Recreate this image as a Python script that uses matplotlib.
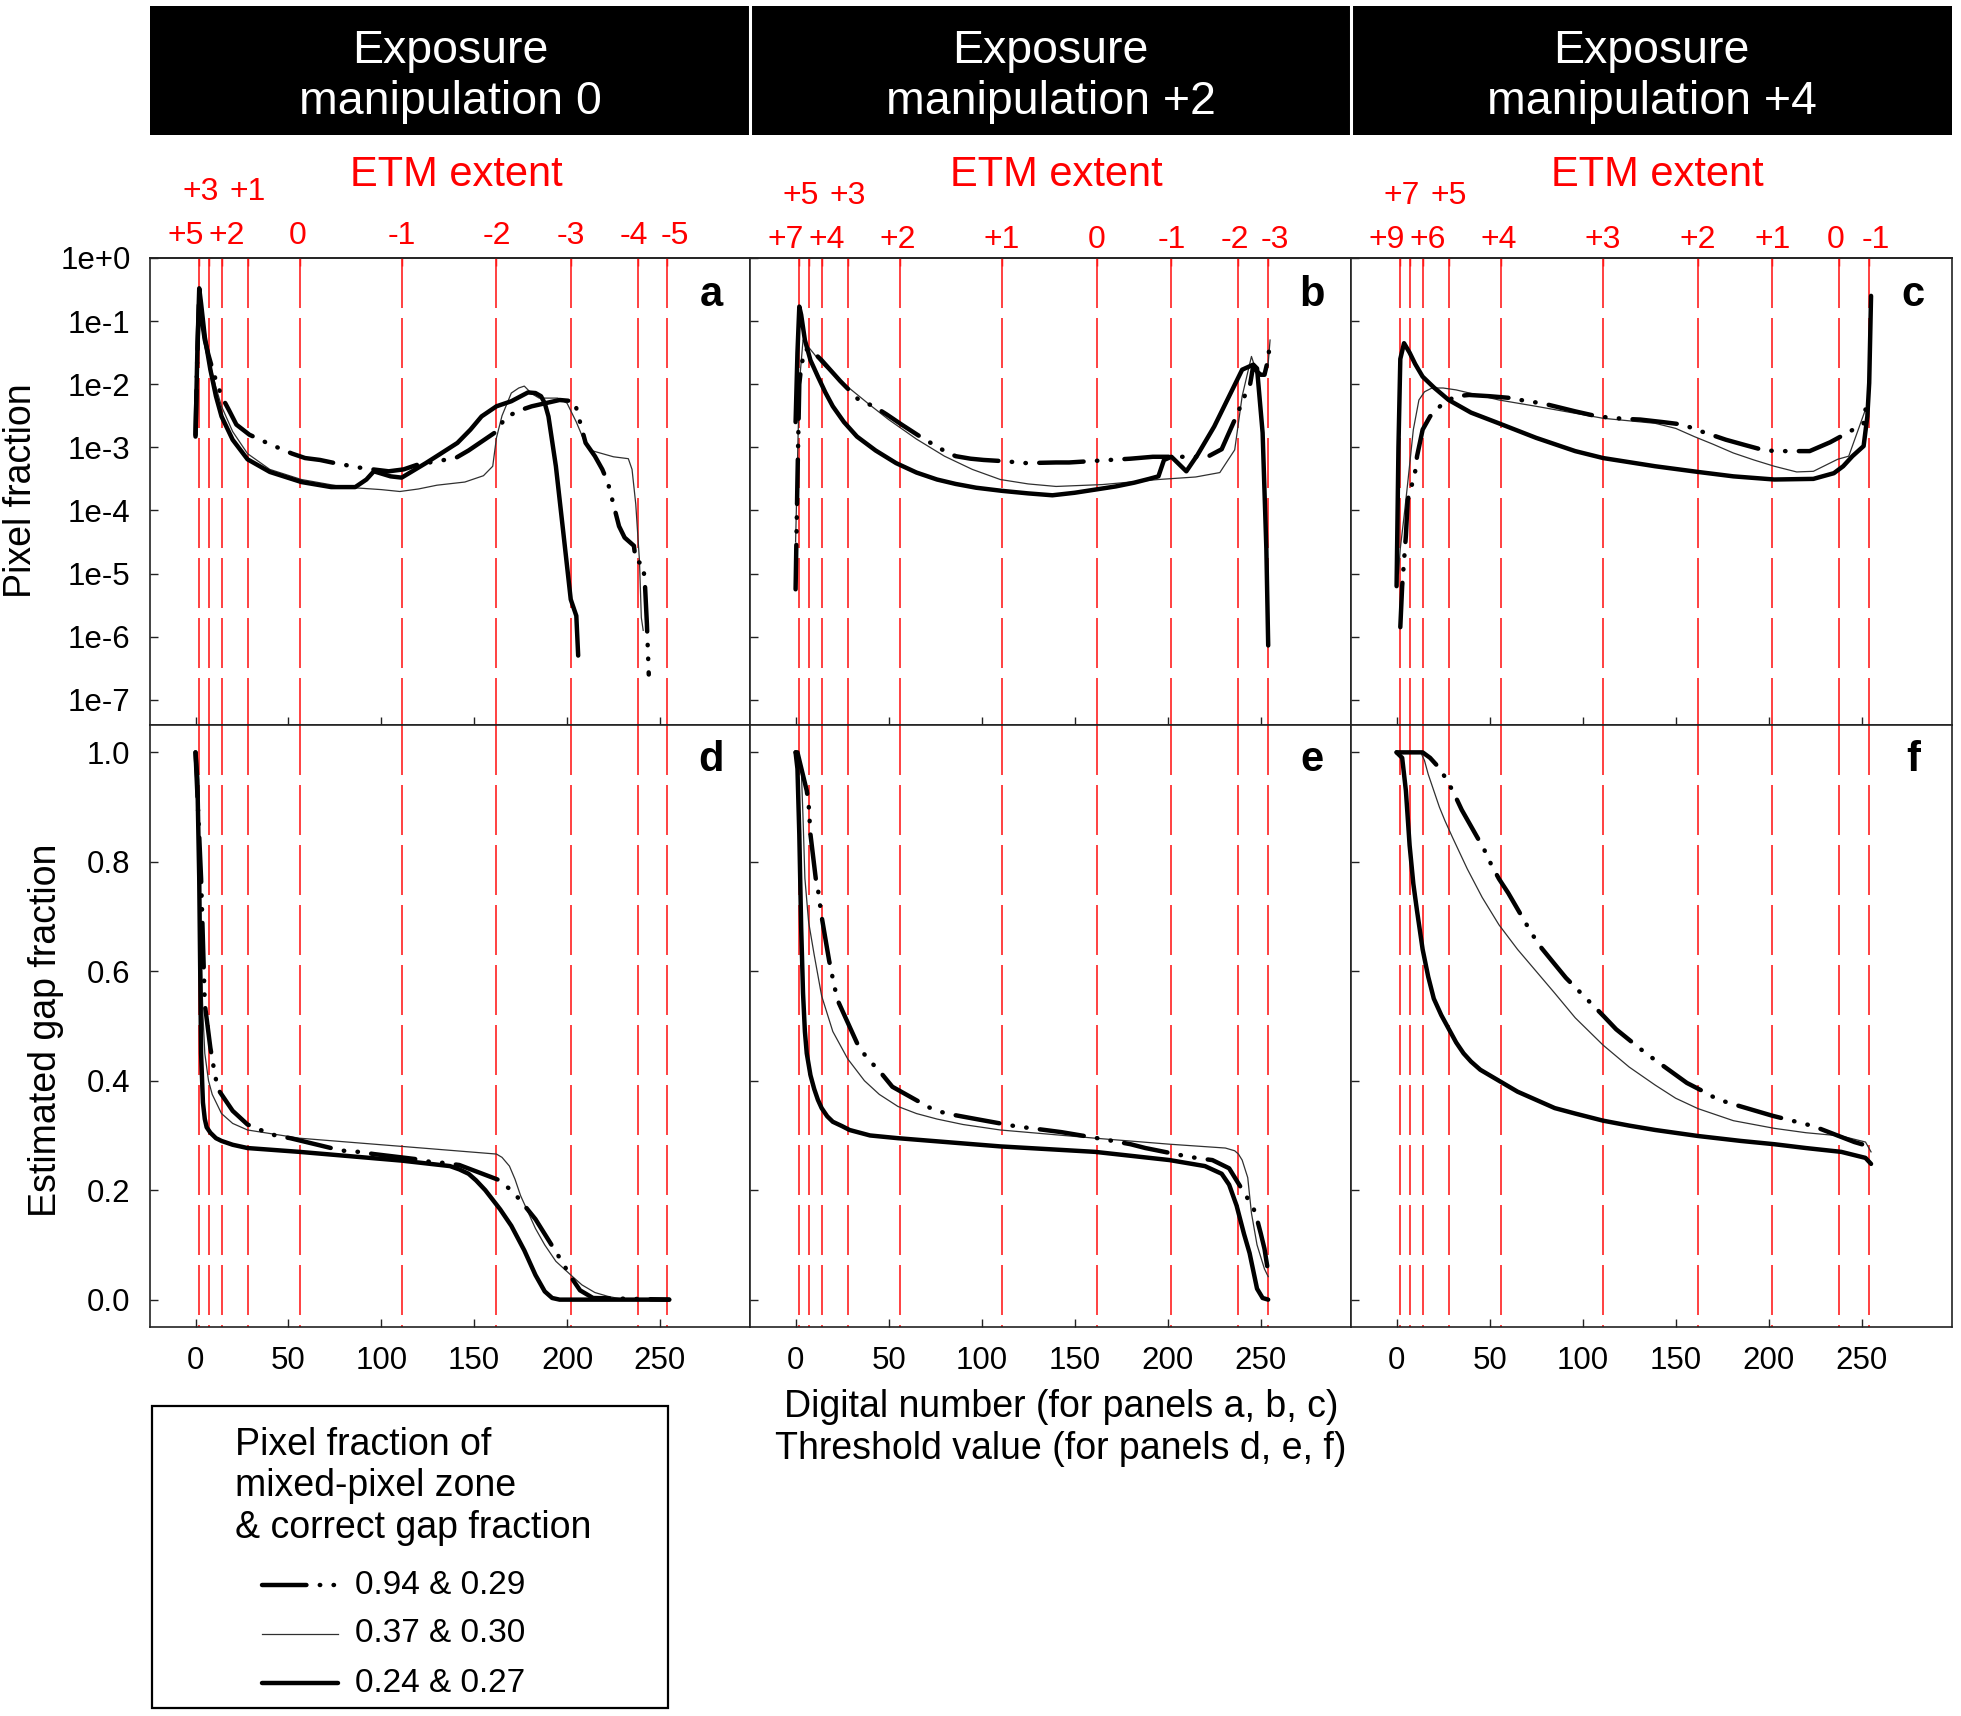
import matplotlib
matplotlib.use("Agg")
import matplotlib.pyplot as plt
from matplotlib.transforms import blended_transform_factory, ScaledTranslation
from matplotlib.patches import Rectangle
from matplotlib.ticker import NullLocator

plt.rcParams['font.family'] = ['Liberation Sans', 'DejaVu Sans']

# ---- data ----
# digital-number positions of the ETM dashed lines (same in every panel)
ETM_DN = [2, 7, 14, 28, 56, 111, 162, 202, 238, 254]
ETM_LABELS = [
    ['+5', '+3', '+2', '+1', '0', '-1', '-2', '-3', '-4', '-5'],
    ['+7', '+5', '+4', '+3', '+2', '+1', '0', '-1', '-2', '-3'],
    ['+9', '+7', '+6', '+5', '+4', '+3', '+2', '+1', '0', '-1'],
]
HEADERS = ['0', '+2', '+4']
PANEL_TOP = ['a', 'b', 'c']
PANEL_BOT = ['d', 'e', 'f']

# panel a: log10(pixel fraction) vs digital number
a_thick_dn = [0, 1, 2, 3, 5, 8, 11, 14, 20, 28, 40, 57, 73, 86, 92, 96, 105, 111, 124, 132, 141,
              148, 154, 162, 170, 179, 183, 186, 188, 190, 194, 198, 202, 205, 206]
a_thick_lg = [-2.83, -1.46, -0.48, -0.72, -1.25, -1.77, -2.19, -2.51, -2.88, -3.19, -3.39, -3.55,
              -3.63, -3.63, -3.51, -3.38, -3.46, -3.48, -3.25, -3.10, -2.93, -2.72, -2.51, -2.35,
              -2.27, -2.13, -2.14, -2.19, -2.30, -2.51, -3.30, -4.35, -5.41, -5.67, -6.30]
a_mid_dn = [0, 1, 2, 3, 5, 7, 10, 14, 18, 22, 29, 40, 52, 59, 67, 75, 90, 104, 112, 120, 140,
            147, 155, 162, 167, 176, 181, 196, 204, 210, 215, 219, 222, 228, 231, 236, 237, 241,
            242, 243, 244]
a_mid_lg = [-2.8, -1.5, -0.55, -0.9, -1.3, -1.54, -1.85, -2.19, -2.41, -2.64, -2.80, -2.95,
            -3.10, -3.17, -3.20, -3.25, -3.33, -3.38, -3.35, -3.27, -3.17, -3.05, -2.89, -2.75,
            -2.52, -2.40, -2.35, -2.25, -2.27, -2.93, -3.14, -3.35, -3.56, -4.25, -4.43, -4.56,
            -4.80, -4.85, -5.2, -5.8, -6.6]
a_thin_dn = [1, 2, 3, 5, 8, 11, 14, 20, 28, 40, 57, 80, 100, 110, 120, 130, 145, 155, 160, 162,
             165, 170, 174, 177, 181, 185, 195, 200, 205, 210, 213, 225, 233, 235, 237, 239, 240,
             241]
a_thin_lg = [-1.0, -0.5, -0.6, -1.2, -1.7, -2.05, -2.35, -2.75, -3.10, -3.35, -3.51, -3.63,
             -3.67, -3.70, -3.66, -3.60, -3.55, -3.45, -3.30, -2.85, -2.50, -2.14, -2.06, -2.03,
             -2.15, -2.22, -2.22, -2.30, -2.60, -2.95, -3.05, -3.15, -3.18, -3.35, -3.90, -4.80,
             -5.70, -5.90]

# panel b
b_thick_dn = [0, 1, 2, 3, 5, 8, 12, 16, 20, 26, 33, 43, 54, 65, 76, 86, 97, 111, 125, 138, 150,
              161, 172, 182, 190, 195, 198, 202, 210, 216, 225, 232, 240, 246, 248, 251, 253, 254]
b_thick_lg = [-2.6, -1.5, -0.77, -0.9, -1.3, -1.62, -1.88, -2.13, -2.35, -2.6, -2.83, -3.05,
              -3.25, -3.4, -3.51, -3.58, -3.64, -3.69, -3.73, -3.76, -3.72, -3.67, -3.62, -3.56,
              -3.5, -3.46, -3.2, -3.15, -3.38, -3.12, -2.67, -2.25, -1.77, -1.69, -1.75, -2.77,
              -4.6, -6.14]
b_mid_dn = [0, 1, 2, 3, 5, 8, 14, 24, 34, 42, 49, 57, 68, 79, 86, 94, 101, 112, 124, 140, 147,
            158, 169, 180, 192, 204, 216, 222, 229, 232, 237, 242, 244, 246, 248, 250, 252, 254,
            255]
b_mid_lg = [-5.25, -3.5, -2.0, -1.72, -1.45, -1.45, -1.62, -1.95, -2.25, -2.35, -2.48, -2.64,
            -2.85, -3.04, -3.14, -3.18, -3.2, -3.22, -3.25, -3.24, -3.24, -3.22, -3.2, -3.18,
            -3.15, -3.15, -3.15, -3.14, -3.03, -2.83, -2.5, -2.14, -2.05, -1.7, -1.8, -1.85,
            -1.85, -1.6, -1.3]
b_thin_dn = [0, 2, 4, 8, 14, 22, 30, 40, 50, 65, 80, 95, 110, 125, 140, 165, 195, 215, 228, 236,
             240, 245, 248, 252, 254, 255]
b_thin_lg = [-4.5, -2.0, -1.3, -1.45, -1.67, -1.9, -2.09, -2.33, -2.56, -2.87, -3.14, -3.35,
             -3.51, -3.58, -3.62, -3.59, -3.51, -3.47, -3.4, -3.04, -2.19, -1.56, -1.83, -1.85,
             -1.67, -1.3]

# panel c
c_thick_dn = [0, 1, 2, 4, 7, 10, 14, 20, 28, 40, 55, 75, 96, 111, 139, 162, 181, 203, 224, 235,
              240, 245, 251, 253, 254, 255]
c_thick_lg = [-5.2, -3.0, -1.6, -1.35, -1.5, -1.68, -1.88, -2.05, -2.25, -2.45, -2.62, -2.85,
              -3.06, -3.17, -3.30, -3.39, -3.46, -3.51, -3.50, -3.41, -3.3, -3.14, -2.98, -2.51,
              -1.98, -0.6]
c_mid_dn = [2, 3, 5, 6, 8, 10, 11, 14, 18, 25, 32, 39, 50, 62, 70, 78, 85, 96, 108, 115, 123,
            131, 143, 154, 161, 169, 177, 188, 198, 206, 214, 222, 233, 243, 251, 252]
c_mid_lg = [-5.85, -5.2, -4.4, -3.83, -3.62, -3.38, -3.14, -2.72, -2.51, -2.3, -2.19, -2.17,
            -2.19, -2.22, -2.27, -2.3, -2.35, -2.43, -2.51, -2.53, -2.55, -2.56, -2.6, -2.64,
            -2.72, -2.8, -2.88, -2.97, -3.05, -3.06, -3.06, -3.06, -2.92, -2.76, -2.62, -2.4]
c_thin_dn = [1, 2, 4, 6, 9, 12, 15, 19, 25, 32, 55, 75, 111, 139, 150, 160, 170, 181, 192, 203,
             215, 224, 237, 243, 252]
c_thin_lg = [-5.0, -4.6, -4.1, -3.56, -2.72, -2.25, -2.12, -2.06, -2.06, -2.09, -2.25, -2.35,
             -2.54, -2.62, -2.7, -2.83, -2.95, -3.09, -3.2, -3.3, -3.39, -3.38, -3.19, -3.14, -2.4]

# panel d: estimated gap fraction vs threshold
d_thick_dn = [0, 1, 2, 3, 4, 5, 6, 8, 11, 14, 20, 28, 56, 111, 137, 142, 147, 151, 156, 164, 170,
              177, 183, 188, 192, 196, 255]
d_thick_gf = [1.0, 0.95, 0.77, 0.45, 0.36, 0.33, 0.315, 0.305, 0.295, 0.29, 0.283, 0.277, 0.27,
              0.254, 0.244, 0.238, 0.23, 0.218, 0.20, 0.165, 0.135, 0.09, 0.045, 0.015, 0.003,
              0.0, 0.0]
d_mid_dn = [0, 3, 5, 8, 10, 12, 20, 28, 35, 43, 51, 73, 80, 88, 96, 118, 126, 133, 142, 163, 171,
            178, 183, 197, 202, 207, 214, 255]
d_mid_gf = [1.0, 0.77, 0.54, 0.46, 0.42, 0.385, 0.345, 0.32, 0.31, 0.30, 0.295, 0.277, 0.272,
            0.27, 0.266, 0.257, 0.252, 0.25, 0.246, 0.219, 0.197, 0.168, 0.147, 0.071, 0.042,
            0.017, 0.003, 0.0]
d_thin_dn = [0, 2, 3, 4, 5, 7, 9, 14, 20, 28, 56, 111, 162, 165, 169, 172, 175, 183, 188, 194,
             203, 208, 215, 222, 228, 234, 255]
d_thin_gf = [1.0, 0.8, 0.63, 0.52, 0.45, 0.4, 0.375, 0.34, 0.322, 0.31, 0.295, 0.28, 0.266, 0.26,
             0.244, 0.22, 0.19, 0.13, 0.1, 0.07, 0.042, 0.027, 0.013, 0.006, 0.002, 0.0, 0.0]

# panel e
e_thick_dn = [0, 1, 2, 3, 4, 5, 6, 8, 10, 12, 14, 17, 20, 25, 29, 40, 55, 110, 161, 201, 220,
              229, 233, 237, 241, 244, 248, 251, 254]
e_thick_gf = [1.0, 0.97, 0.85, 0.68, 0.56, 0.49, 0.45, 0.41, 0.385, 0.365, 0.35, 0.335, 0.325,
              0.317, 0.31, 0.30, 0.295, 0.28, 0.27, 0.255, 0.244, 0.23, 0.21, 0.172, 0.12, 0.085,
              0.02, 0.003, 0.0]
e_mid_dn = [0, 1, 6, 7, 8, 11, 12, 13, 14, 18, 21, 23, 33, 38, 45, 52, 73, 81, 89, 97, 118, 127,
            134, 143, 164, 172, 180, 188, 210, 217, 224, 233, 246, 248, 250, 252, 254]
e_mid_gf = [1.0, 1.0, 0.93, 0.906, 0.85, 0.765, 0.75, 0.725, 0.70, 0.62, 0.57, 0.544, 0.469,
            0.443, 0.418, 0.389, 0.349, 0.34, 0.335, 0.33, 0.317, 0.313, 0.31, 0.306, 0.294,
            0.289, 0.284, 0.277, 0.262, 0.258, 0.255, 0.24, 0.168, 0.147, 0.121, 0.093, 0.05]
e_thin_dn = [0, 2, 3, 4, 5, 7, 10, 14, 20, 28, 37, 45, 55, 65, 76, 90, 110, 161, 201, 231, 236,
             238, 240, 243, 245, 248, 252, 254]
e_thin_gf = [1.0, 0.99, 0.975, 0.88, 0.77, 0.69, 0.63, 0.555, 0.49, 0.44, 0.40, 0.375, 0.353,
             0.34, 0.33, 0.32, 0.31, 0.295, 0.284, 0.277, 0.272, 0.266, 0.255, 0.223, 0.158, 0.10,
             0.056, 0.042]

# panel f
f_thick_dn = [0, 3, 5, 7, 9, 11, 14, 17, 20, 24, 28, 32, 36, 40, 45, 55, 65, 75, 85, 96, 111,
              125, 139, 162, 185, 203, 220, 239, 252, 255]
f_thick_gf = [1.0, 0.99, 0.93, 0.83, 0.76, 0.71, 0.64, 0.59, 0.55, 0.52, 0.495, 0.47, 0.45,
              0.435, 0.42, 0.40, 0.38, 0.365, 0.35, 0.34, 0.327, 0.318, 0.31, 0.299, 0.29, 0.284,
              0.277, 0.27, 0.259, 0.248]
f_mid_dn = [0, 14, 18, 22, 27, 31, 35, 47, 51, 55, 60, 73, 78, 84, 91, 111, 118, 126, 134, 156,
            164, 172, 179, 202, 209, 216, 224, 246, 254]
f_mid_gf = [1.0, 1.0, 0.99, 0.975, 0.95, 0.924, 0.895, 0.823, 0.794, 0.769, 0.743, 0.667, 0.642,
            0.617, 0.588, 0.519, 0.494, 0.472, 0.45, 0.396, 0.382, 0.367, 0.359, 0.336, 0.33,
            0.324, 0.317, 0.288, 0.28]
f_thin_dn = [0, 13, 15, 17, 20, 23, 26, 30, 38, 46, 55, 65, 75, 85, 96, 111, 125, 139, 150, 162,
             181, 203, 220, 239, 252, 255]
f_thin_gf = [1.0, 1.0, 0.985, 0.96, 0.93, 0.90, 0.875, 0.845, 0.787, 0.735, 0.685, 0.64, 0.60,
             0.56, 0.515, 0.465, 0.425, 0.392, 0.368, 0.349, 0.327, 0.313, 0.305, 0.299, 0.288,
             0.27]

LEGEND_TITLE = ['Pixel fraction of', 'mixed-pixel zone', '& correct gap fraction']
LEGEND_LABELS = ['0.94 & 0.29', '0.37 & 0.30', '0.24 & 0.27']

# ---- styles ----
STYLES = {
    'mid': dict(color='black', lw=3.2, dashes=(10, 3.0, 0.1, 3.0, 0.1, 3.0),
                dash_capstyle='round'),
    'thin': dict(color='#303030', lw=0.9),
    'thick': dict(color='black', lw=3.2, solid_capstyle='round', solid_joinstyle='round'),
}

top_series = [
    [('thin', a_thin_dn, a_thin_lg), ('mid', a_mid_dn, a_mid_lg), ('thick', a_thick_dn, a_thick_lg)],
    [('thin', b_thin_dn, b_thin_lg), ('mid', b_mid_dn, b_mid_lg), ('thick', b_thick_dn, b_thick_lg)],
    [('thin', c_thin_dn, c_thin_lg), ('mid', c_mid_dn, c_mid_lg), ('thick', c_thick_dn, c_thick_lg)],
]
bot_series = [
    [('thin', d_thin_dn, d_thin_gf), ('mid', d_mid_dn, d_mid_gf), ('thick', d_thick_dn, d_thick_gf)],
    [('thin', e_thin_dn, e_thin_gf), ('mid', e_mid_dn, e_mid_gf), ('thick', e_thick_dn, e_thick_gf)],
    [('thin', f_thin_dn, f_thin_gf), ('mid', f_mid_dn, f_mid_gf), ('thick', f_thick_dn, f_thick_gf)],
]

# ---- layout (pixels of the 1961x1716 canvas) ----
W, H = 1961, 1716
COL_X = [150, 750, 1351, 1952]
TOP_Y = (258, 725)
BOT_Y = (725, 1327)
XLIM = (-24.5, 298.5)
TICK_FS = 22.5
LABEL_OFFS = [-14, -8, 5, 0, -2, 0, 0, 0, -4, 7]   # px nudges of crowded ETM labels
ROW_BASE = [(14, 58), (10, 54), (10, 54)]          # px above axes top (lower row, upper row)

fig = plt.figure(figsize=(W / 100, H / 100), dpi=100)


def rect(x0, y0, x1, y1):
    return [x0 / W, 1 - y1 / H, (x1 - x0) / W, (y1 - y0) / H]


def style_axes(ax):
    for s in ax.spines.values():
        s.set_linewidth(1.2)
        s.set_color('#222222')
    ax.set_xlim(*XLIM)
    ax.set_xticks([0, 50, 100, 150, 200, 250])
    ax.tick_params(direction='in', length=6, width=1.0, labelsize=TICK_FS, pad=14,
                   top=False, right=False, color='#222222')
    trans = blended_transform_factory(ax.transData, ax.transAxes)
    for x in ETM_DN:
        ax.plot([x, x], [1, 0], transform=trans, color='#ff2020', lw=1.2,
                dashes=(30, 6), zorder=1)


def offset(dx, dy):
    return ScaledTranslation(dx / 100, dy / 100, fig.dpi_scale_trans)


for i in range(3):
    # top row: pixel fraction histograms
    ax = fig.add_axes(rect(COL_X[i], TOP_Y[0], COL_X[i + 1], TOP_Y[1]))
    ax.set_yscale('log')
    style_axes(ax)
    ax.set_ylim(10 ** -7.4, 1)
    ax.set_yticks([10.0 ** -k for k in range(8)])
    ax.yaxis.set_minor_locator(NullLocator())
    ax.set_yticklabels(['1e+0'] + ['1e-%d' % k for k in range(1, 8)])
    ax.tick_params(labelbottom=False, labelleft=(i == 0))
    for key, xs, lg in top_series[i]:
        ax.plot(xs, [10.0 ** v for v in lg], zorder=3, **STYLES[key])
    ax.text(0.935, 0.921, PANEL_TOP[i], transform=ax.transAxes, ha='center', va='center',
            fontsize=30, fontweight='bold')

    sec = ax.secondary_xaxis('top')
    sec.set_xticks(ETM_DN, labels=[])
    sec.tick_params(direction='in', length=6, width=1.0, color='red')
    sec.spines['top'].set_linewidth(1.2)
    sec.spines['top'].set_color('#222222')

    trans = blended_transform_factory(ax.transData, ax.transAxes)
    low, up = ROW_BASE[i]
    for k, (x, lab) in enumerate(zip(ETM_DN, ETM_LABELS[i])):
        dy = up if k in (1, 3) else low
        ax.text(x, 1.0, lab, transform=trans + offset(LABEL_OFFS[k], dy), ha='center',
                va='baseline', color='red', fontsize=23)
    ax.text(0.51, 1.0, 'ETM extent', transform=ax.transAxes + offset(0, 72), ha='center',
            va='baseline', color='red', fontsize=30)

    # bottom row: estimated gap fraction
    bx = fig.add_axes(rect(COL_X[i], BOT_Y[0], COL_X[i + 1], BOT_Y[1]))
    style_axes(bx)
    bx.set_ylim(-0.05, 1.05)
    bx.set_yticks([0.0, 0.2, 0.4, 0.6, 0.8, 1.0])
    bx.set_yticklabels(['0.0', '0.2', '0.4', '0.6', '0.8', '1.0'])
    bx.tick_params(labelleft=(i == 0))
    for key, xs, gf in bot_series[i]:
        bx.plot(xs, gf, zorder=3, **STYLES[key])
    bx.text(0.935, 0.942, PANEL_BOT[i], transform=bx.transAxes, ha='center', va='center',
            fontsize=30, fontweight='bold')

# overlay in pixel coordinates for headers, labels and legend
ov = fig.add_axes([0, 0, 1, 1])
ov.set_xlim(0, W)
ov.set_ylim(H, 0)
ov.axis('off')
ov.patch.set_alpha(0)

ov.add_patch(Rectangle((COL_X[0], 6), COL_X[3] - COL_X[0], 129, color='black', lw=0))
for x in COL_X[1:3]:
    ov.plot([x, x], [6, 135], color='white', lw=2.2)
for i, m in enumerate(HEADERS):
    cx = (COL_X[i] + COL_X[i + 1]) / 2
    ov.text(cx, 63, 'Exposure', color='white', fontsize=33.5, ha='center', va='baseline')
    ov.text(cx, 114, 'manipulation ' + m, color='white', fontsize=33.5, ha='center',
            va='baseline')

ov.text(21, 491, 'Pixel fraction', rotation=90, ha='center', va='center', fontsize=27)
ov.text(46, 1030, 'Estimated gap fraction', rotation=90, ha='center', va='center', fontsize=27)
ov.text(1061, 1407, 'Digital number (for panels a, b, c)', ha='center', va='center', fontsize=27)
ov.text(1061, 1449, 'Threshold value (for panels d, e, f)', ha='center', va='center',
        fontsize=27)

# legend box
ov.add_patch(Rectangle((152, 1406), 516, 302, fill=False, ec='black', lw=1.6))
for k, line in enumerate(LEGEND_TITLE):
    ov.text(235, 1445 + 41.5 * k, line, ha='left', va='center', fontsize=27)
for k, (key, lab) in enumerate(zip(['mid', 'thin', 'thick'], LEGEND_LABELS)):
    y = 1585 + 49 * k
    ov.plot([262, 338], [y, y], **STYLES[key])
    ov.text(355, y, lab, ha='left', va='center', fontsize=24)

fig.savefig('out.png', dpi=100)
